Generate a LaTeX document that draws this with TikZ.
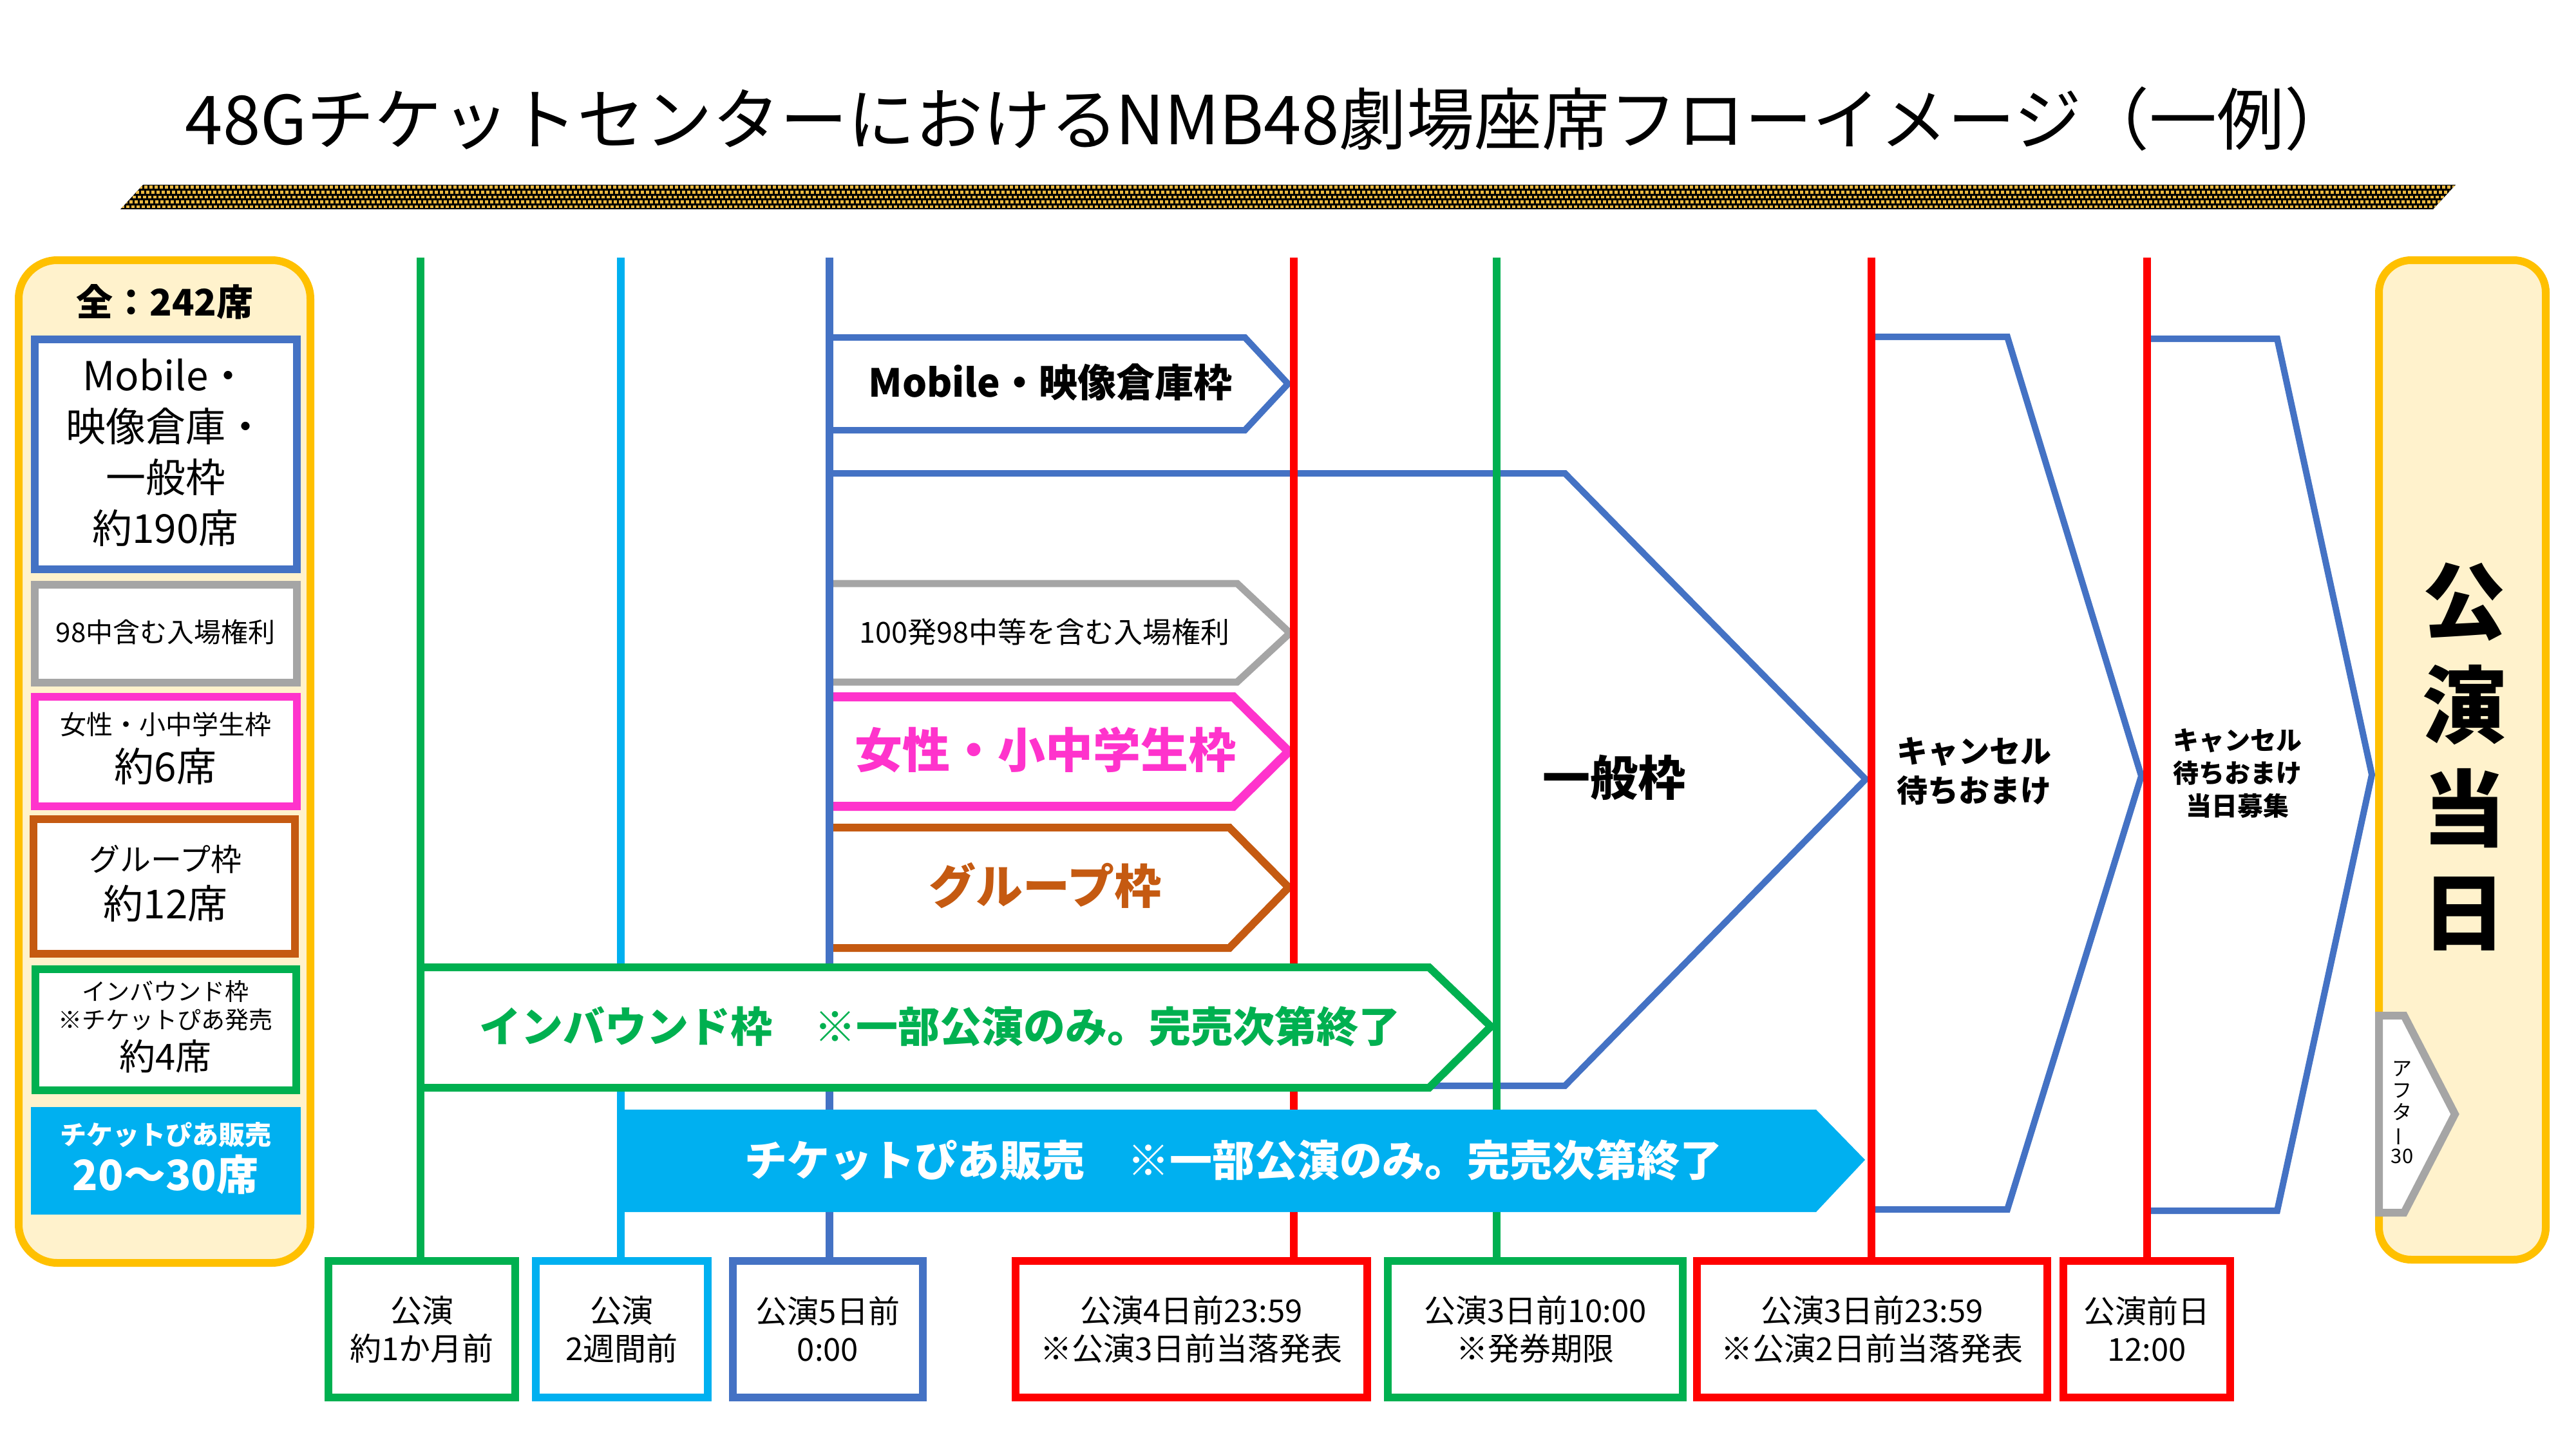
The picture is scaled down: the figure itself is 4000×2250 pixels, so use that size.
\documentclass[tikz,border=0pt]{standalone}
\usepackage{fontspec}
\setmainfont{Noto Sans CJK JP}
\usepackage{graphicx}
\definecolor{cblue}{HTML}{4472C4}
\definecolor{cgray}{HTML}{A5A5A5}
\definecolor{cpink}{HTML}{FF33CC}
\definecolor{cbrown}{HTML}{C55A11}
\definecolor{cgreen}{HTML}{00B050}
\definecolor{ccyan}{HTML}{00B0F0}
\definecolor{cred}{HTML}{FF0000}
\definecolor{cyellow}{HTML}{FFC000}
\definecolor{ccream}{HTML}{FFF2CC}
\definecolor{cgold}{HTML}{EBB941}
\newcommand\myfs[2]{\fontsize{#1}{#2}\selectfont}
\begin{document}
\begin{tikzpicture}[x=1pt,y=-1pt,
  vline/.style={line width=12pt},
  arrowshape/.style={line width=10pt, fill=white, line join=miter},
  lbox/.style={draw, line width=12pt, fill=white, inner sep=0pt, minimum width=407pt},
  bbox/.style={draw, line width=12pt, fill=white, inner sep=0pt, minimum height=212pt, align=center, font={\myfs{49}{59}}},
  txt/.style={inner sep=0pt, align=center},
]
\path[use as bounding box, fill=white] (0,0) rectangle (4000,2250);

% title
\node[txt, font={\myfs{105}{112}}] (title) at (1970,185) {48Gチケットセンターにおける\hspace{-0.04em}NMB48劇場座席フローイメージ（一例）};
\begin{scope}
\clip (222,287) -- (3813,287) -- (3778,325) -- (187,325) -- cycle;
\fill[black] (180,285) rectangle (3820,327);
\foreach \r in {0,...,4} {
  \foreach \c in {0,...,455} {
    \fill[cgold] ({176+\c*8+\r*3},{288.5+\r*7.6}) rectangle +(4.6,4.6);
  }
}
\end{scope}

% left panel
\node[draw=cyellow, line width=12pt, fill=ccream, rounded corners=60pt, minimum width=453pt, minimum height=1557pt, inner sep=0pt] (lpanel) at (255.5,1182.5) {};
\node[txt, font={\bfseries\myfs{57}{60}}] (ltotal) at (256,469) {全：242席};
\node[lbox, draw=cblue, minimum height=357pt] (lb1) at (257.5,705.5) {};
\node[txt, font={\myfs{62}{79}}] (lb1t) at (257,703) {Mobile・\\映像倉庫・\\一般枠\\約190席};
\node[lbox, draw=cgray, minimum height=152pt] (lb2) at (257.5,984) {};
\node[txt, font={\myfs{42}{48}}] (lb2t) at (257,982) {98中含む入場権利};
\node[lbox, draw=cpink, minimum height=170pt] (lb3) at (257.5,1167) {};
\node[txt, font={\myfs{41}{48}}] (lb3a) at (257,1125) {女性・小中学生枠};
\node[txt, font={\myfs{62}{66}}] (lb3b) at (257,1190) {約6席};
\node[lbox, draw=cbrown, minimum width=406pt, minimum height=209pt] (lb4) at (255,1376.5) {};
\node[txt, font={\myfs{48}{52}}] (lb4a) at (257,1334) {グループ枠};
\node[txt, font={\myfs{62}{66}}] (lb4b) at (257,1403) {約12席};
\node[lbox, draw=cgreen, minimum width=405pt, minimum height=188pt] (lb5) at (257.5,1599) {};
\node[txt, font={\myfs{37}{44}}] (lb5a) at (257,1562) {インバウンド枠\\※チケットぴあ発売};
\node[txt, font={\myfs{56}{60}}] (lb5b) at (257,1640) {約4席};
\node[fill=ccyan, inner sep=0pt, minimum width=419pt, minimum height=167pt] (lb6) at (257.5,1802.5) {};
\node[txt, text=white, font={\bfseries\myfs{41}{46}}] (lb6a) at (257,1762) {チケットぴあ販売};
\node[txt, text=white, font={\bfseries\myfs{65}{70}}] (lb6b) at (257,1824) {20～30席};

% right panel
\node[draw=cyellow, line width=12pt, fill=ccream, rounded corners=50pt, minimum width=259pt, minimum height=1552pt, inner sep=0pt] (rpanel) at (3823.5,1180) {};
\node[txt, font={\bfseries\myfs{130}{161}}] (rday) at (3826,1175) {公\\演\\当\\日};
\draw[cgray, line width=12pt, fill=white, line join=miter] (3694,1577) -- (3733,1577) -- (3812,1730) -- (3733,1883) -- (3694,1883) -- cycle;
\node[txt, font={\myfs{31}{34}}] (after) at (3730,1727) {ア\\フ\\タ\\\rotatebox[origin=c]{90}{ー}\\30};

% big general shape and cancel shapes
\draw[cblue, arrowshape] (1288,735) -- (2430,735) -- (2897,1210) -- (2430,1686) -- (1288,1686);
\draw[cblue, arrowshape] (2906,523) -- (3117,523) -- (3325,1205) -- (3117,1878) -- (2906,1878);
\draw[cblue, arrowshape] (3334,526) -- (3536,526) -- (3683,1203) -- (3536,1880) -- (3334,1880);

% small arrows
\draw[cblue, arrowshape] (1288,524) -- (1933,524) -- (2000,596) -- (1933,668) -- (1288,668);
\draw[cgray, arrowshape, line width=11pt] (1288,906) -- (1921,906) -- (2003,983) -- (1921,1059) -- (1288,1059);
\draw[cpink, arrowshape, line width=14pt] (1288,1082) -- (1915,1082) -- (2001,1167) -- (1915,1252) -- (1288,1252);
\draw[cbrown, arrowshape, line width=12pt] (1288,1285) -- (1909,1285) -- (2001,1378) -- (1909,1472) -- (1288,1472);

% bottom boxes
\node[bbox, draw=cgreen, minimum width=290pt] (b1) at (655,2064) {公演\\約1か月前};
\node[bbox, draw=ccyan, minimum width=267pt] (b2) at (965.5,2064) {公演\\2週間前};
\node[bbox, draw=cblue, minimum width=295pt] (b3) at (1285.5,2064) {公演5日前\\0:00};
\node[bbox, draw=cred, minimum width=546pt] (b4) at (1850,2064) {公演4日前23:59\\※公演3日前当落発表};
\node[bbox, draw=cgreen, minimum width=458pt] (b5) at (2384,2064) {公演3日前10:00\\※発券期限};
\node[bbox, draw=cred, minimum width=544pt] (b6) at (2907,2064) {公演3日前23:59\\※公演2日前当落発表};
\node[bbox, draw=cred, minimum width=259pt] (b7) at (3333.5,2064) {公演前日\\12:00};

% vertical time lines
\coordinate (v1) at (653,400);
\coordinate (v2) at (964,400);
\coordinate (v3) at (1288,400);
\coordinate (v4) at (2009,400);
\coordinate (v5) at (2324,400);
\coordinate (v6) at (2906,400);
\coordinate (v7) at (3334,400);
\draw[vline, cgreen] (v1) -- (v1 |- b1.north);
\draw[vline, ccyan] (v2) -- (v2 |- b2.north);
\draw[vline, cblue] (v3) -- (v3 |- b3.north);
\draw[vline, cred] (v4) -- (v4 |- b4.north);
\draw[vline, cgreen] (v5) -- (v5 |- b5.north);
\draw[vline, cred] (v6) -- (v6 |- b6.north);
\draw[vline, cred] (v7) -- (v7 |- b7.north);

% inbound and pia arrows
\draw[cgreen, line width=12pt, fill=white, line join=miter] (653,1502) -- (2219,1502) -- (2315,1594) -- (2219,1689) -- (653,1689) -- cycle;
\fill[ccyan] (958,1723) -- (2820,1723) -- (2896,1801) -- (2820,1882) -- (958,1882) -- cycle;

% arrow texts
\node[txt, font={\bfseries\myfs{60}{70}}] (tmobile) at (1631,594) {Mobile・映像倉庫枠};
\node[txt, font={\myfs{45}{50}}] (tgray) at (1622,981) {100発98中等を含む入場権利};
\node[txt, text=cpink, font={\bfseries\myfs{74}{80}}] (tpink) at (1623,1164) {女性・小中学生枠};
\node[txt, text=cbrown, font={\bfseries\myfs{73}{80}}] (tbrown) at (1623,1375) {グループ枠};
\node[txt, font={\bfseries\myfs{74}{80}}] (tippan) at (2506,1207) {一般枠};
\node[txt, text=cgreen, font={\bfseries\myfs{65}{70}}] (tinb) at (1459,1594) {インバウンド枠　※一部公演のみ。完売次第終了};
\node[txt, text=white, font={\bfseries\myfs{66}{70}}] (tpia) at (1915,1801) {チケットぴあ販売　※一部公演のみ。完売次第終了};
\node[txt, font={\bfseries\myfs{48}{61}}] (tc1) at (3065,1197) {キャンセル\\待ちおまけ};
\node[txt, font={\bfseries\myfs{40}{51}}] (tc2) at (3474,1201) {キャンセル\\待ちおまけ\\当日募集};
\end{tikzpicture}
\end{document}
